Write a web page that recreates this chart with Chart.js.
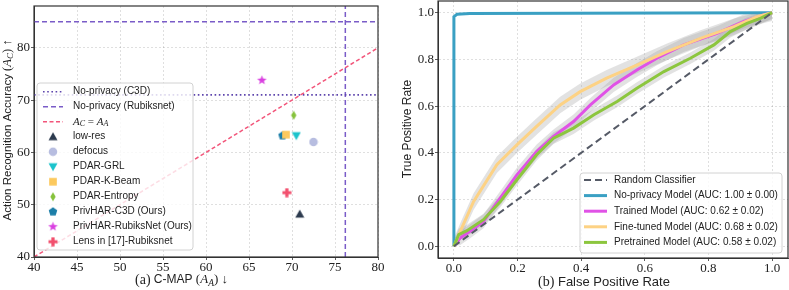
<!DOCTYPE html>
<html>
<head>
<meta charset="utf-8">
<script src="https://cdn.jsdelivr.net/npm/chart.js@4.4.0/dist/chart.umd.min.js"></script>
<style>
  body { margin: 0; background: #fff; }
  #izq { position: absolute; left: 0; top: 0; }
  #der { position: absolute; left: 395px; top: 0; }
</style>
</head>
<body>
<canvas id="izq" width="395" height="290"></canvas>
<canvas id="der" width="394" height="290"></canvas>
<script>
// ---- (a) privacidad vs precision ----
const metodos = ["low-res", "defocus", "PDAR-GRL", "PDAR-K-Beam", "PDAR-Entropy",
  "PrivHAR-C3D (Ours)", "PrivHAR-RubiksNet (Ours)", "Lens in [17]-Rubiksnet"];
const cmapMetodos = [70.9, 72.5, 70.5, 69.3, 70.2, 68.9, 66.5, 69.4];
const precisionMetodos = [48.2, 62.0, 63.2, 63.4, 67.1, 63.2, 73.8, 52.3];
const sinPrivacidadC3D = 71.0;          // precision (linea punteada)
const sinPrivacidadRubiksCmap = 76.2;   // linea vertical
const sinPrivacidadRubiksPrec = 85.0;   // linea horizontal
const extremosDiagonal = [40, 80];

// ---- (b) curvas ROC ----
const fprAleatorio = [0, 1];
const tprAleatorio = [0, 1];
const fprSinPrivacidad = [0, 0, 0.01, 0.05, 1];
const tprSinPrivacidad = [0, 0.983, 0.993, 0.997, 1];
const fprEntrenado = [0, 0.02, 0.051, 0.093, 0.146, 0.198, 0.26, 0.313, 0.376, 0.429, 0.502, 0.575, 0.638, 0.722, 0.827, 0.91, 0.974, 1];
const tprEntrenado = [0, 0.036, 0.064, 0.107, 0.207, 0.306, 0.406, 0.47, 0.534, 0.605, 0.691, 0.755, 0.805, 0.862, 0.912, 0.962, 0.99, 1];
const fprAjustado = [0, 0.02, 0.062, 0.135, 0.198, 0.26, 0.334, 0.397, 0.48, 0.575, 0.67, 0.775, 0.88, 0.953, 1];
const tprAjustado = [0, 0.064, 0.192, 0.349, 0.434, 0.513, 0.605, 0.662, 0.72, 0.776, 0.833, 0.89, 0.94, 0.983, 1];
const fprPreentrenado = [0, 0.015, 0.041, 0.093, 0.146, 0.198, 0.26, 0.313, 0.376, 0.44, 0.513, 0.575, 0.66, 0.743, 0.817, 0.869, 0.921, 0.963, 1];
const tprPreentrenado = [0, 0.05, 0.067, 0.114, 0.192, 0.285, 0.392, 0.463, 0.506, 0.563, 0.62, 0.677, 0.748, 0.805, 0.862, 0.919, 0.954, 0.976, 1];
const desviacionModelos = [0.03, 0.035, 0.025]; // entrenado, ajustado, preentrenado
const etiquetasROC = ["Random Classifier", "No-privacy Model (AUC: 1.00 \u00b1 0.00)",
  "Trained Model (AUC: 0.62 \u00b1 0.02)", "Fine-tuned Model (AUC: 0.68 \u00b1 0.02)",
  "Pretrained Model (AUC: 0.58 \u00b1 0.02)"];

// estilos
const SANS = '"Liberation Sans", Arial, sans-serif';
const SERIF = '"Liberation Serif", "DejaVu Serif", serif';
const formas = ["triangulo", "circulo", "trianguloAbajo", "cuadrado", "diamante", "pentagono", "estrella", "cruz"];
const coloresMetodos = ["#2c3a4e", "#b7bde0", "#1cc3cc", "#fcc95e", "#86c23c", "#1c7ea8", "#d93fe0", "#f2506e"];
const colorC3D = "#5e45ad";
const colorRubiks = "#7a5cc8";
const colorDiagonal = "#f2557a";
const colorAleatorio = "#555a66";
const colorSinPriv = "#3aa0c3";
const colorEntrenado = "#e052e6";
const colorAjustado = "#fdd284";
const colorPreentrenado = "#8cc63e";

Chart.defaults.animation = false;
Chart.defaults.color = "#222";

function crearMarcador(forma, color, t) {
  const c = document.createElement("canvas");
  c.width = t; c.height = t;
  const g = c.getContext("2d");
  g.fillStyle = color;
  const m = t / 2, r = t / 2 - 0.5;
  g.beginPath();
  switch (forma) {
    case "circulo": g.arc(m, m, r * 0.95, 0, 2 * Math.PI); break;
    case "triangulo":
      g.moveTo(m, m - r); g.lineTo(m + r, m + r * 0.8); g.lineTo(m - r, m + r * 0.8); break;
    case "trianguloAbajo":
      g.moveTo(m, m + r); g.lineTo(m + r, m - r * 0.8); g.lineTo(m - r, m - r * 0.8); break;
    case "cuadrado": g.rect(m - r * 0.85, m - r * 0.85, r * 1.7, r * 1.7); break;
    case "diamante":
      g.moveTo(m, m - r); g.lineTo(m + r * 0.6, m); g.lineTo(m, m + r); g.lineTo(m - r * 0.6, m); break;
    case "pentagono":
      for (let k = 0; k < 5; k++) {
        const a = -Math.PI / 2 + k * 2 * Math.PI / 5;
        g.lineTo(m + r * Math.cos(a), m + r * Math.sin(a));
      }
      break;
    case "estrella":
      for (let k = 0; k < 10; k++) {
        const a = -Math.PI / 2 + k * Math.PI / 5;
        const rr = k % 2 === 0 ? r : r * 0.42;
        g.lineTo(m + rr * Math.cos(a), m + rr * Math.sin(a));
      }
      break;
    case "cruz": {
      const w = r * 0.36;
      g.moveTo(m - w, m - r); g.lineTo(m + w, m - r); g.lineTo(m + w, m - w); g.lineTo(m + r, m - w);
      g.lineTo(m + r, m + w); g.lineTo(m + w, m + w); g.lineTo(m + w, m + r); g.lineTo(m - w, m + r);
      g.lineTo(m - w, m + w); g.lineTo(m - r, m + w); g.lineTo(m - r, m - w); g.lineTo(m - w, m - w);
      break;
    }
  }
  g.closePath();
  g.fill();
  return c;
}

const marcadores = formas.map((f, i) => crearMarcador(f, coloresMetodos[i], f === "estrella" ? 11 : 10));

// texto con partes de distinta fuente (para A_C, etc.)
function anchoPartes(ctx, partes) {
  let w = 0;
  partes.forEach((p) => { ctx.font = p.f; w += ctx.measureText(p.t).width; });
  return w;
}
function dibujarPartes(ctx, partes, x, y) {
  partes.forEach((p) => {
    ctx.font = p.f;
    ctx.fillText(p.t, x, y + (p.dy || 0));
    x += ctx.measureText(p.t).width;
  });
}

function dibujarLeyenda(ctx, caja, items, inicioY, paso, lineaX0, lineaX1, textoX) {
  ctx.save();
  ctx.beginPath();
  ctx.roundRect(caja.x, caja.y, caja.w, caja.h, 3);
  ctx.fillStyle = "rgba(255,255,255,0.8)";
  ctx.fill();
  ctx.strokeStyle = "#d2d2d2";
  ctx.lineWidth = 1;
  ctx.stroke();
  ctx.textBaseline = "middle";
  items.forEach((it, i) => {
    const y = inicioY + i * paso;
    if (it.marcador) {
      const mk = it.marcador;
      ctx.drawImage(mk, (lineaX0 + lineaX1) / 2 - mk.width / 2, y - mk.height / 2);
    } else {
      ctx.beginPath();
      ctx.setLineDash(it.dash || []);
      ctx.strokeStyle = it.color;
      ctx.lineWidth = it.ancho;
      ctx.moveTo(lineaX0, y);
      ctx.lineTo(lineaX1, y);
      ctx.stroke();
      ctx.setLineDash([]);
    }
    ctx.fillStyle = "#222";
    dibujarPartes(ctx, it.partes, textoX, y);
  });
  ctx.restore();
}

function marco(chart) {
  const { ctx, chartArea: a } = chart;
  ctx.save();
  ctx.strokeStyle = "#333";
  ctx.lineWidth = 1.2;
  ctx.strokeRect(a.left, a.top, a.right - a.left, a.bottom - a.top);
  ctx.restore();
}

function puntos(xs, ys) {
  return xs.map((x, i) => ({ x: x, y: ys[i] }));
}

function sinRelleno(s) {
  s.paddingLeft = 0; s.paddingRight = 0; s.paddingTop = 0; s.paddingBottom = 0;
}

function ejes(minX, maxX, pasoX, minY, maxY, pasoY, anchoY, altoX, formato) {
  const comun = {
    grid: { color: "rgba(0,0,0,0.16)", lineWidth: 0.8, tickColor: "#333", tickLength: 3 },
    border: { dash: [2, 2], color: "#333" },
  };
  return {
    x: {
      type: "linear", min: minX, max: maxX, ...comun,
      ticks: { stepSize: pasoX, includeBounds: false, maxRotation: 0, padding: 0, font: { family: SERIF, size: 13 }, callback: formato },
      afterFit: (s) => { s.height = altoX; sinRelleno(s); },
    },
    y: {
      type: "linear", min: minY, max: maxY, ...comun,
      ticks: { stepSize: pasoY, includeBounds: false, padding: 1, font: { family: SERIF, size: 13 }, callback: formato },
      afterFit: (s) => { s.width = anchoY; sinRelleno(s); },
    },
  };
}

// ---------- grafica (a) ----------
const datosIzq = [];
metodos.forEach((m, i) => {
  datosIzq.push({
    label: m,
    data: [{ x: cmapMetodos[i], y: precisionMetodos[i] }],
    pointStyle: marcadores[i],
    pointRadius: 5,
  });
});
datosIzq.push({
  label: "A_C = A_A",
  data: puntos(extremosDiagonal, extremosDiagonal),
  showLine: true, borderColor: colorDiagonal, borderWidth: 1.5, borderDash: [4, 2.5], pointRadius: 0,
});
datosIzq.push({
  label: "No-privacy (C3D)",
  data: puntos(extremosDiagonal, [sinPrivacidadC3D, sinPrivacidadC3D]),
  showLine: true, borderColor: colorC3D, borderWidth: 1.6, borderDash: [1.6, 2.6], pointRadius: 0,
});
datosIzq.push({
  label: "No-privacy (Rubiksnet)",
  data: puntos(extremosDiagonal, [sinPrivacidadRubiksPrec, sinPrivacidadRubiksPrec]),
  showLine: true, borderColor: colorRubiks, borderWidth: 1.5, borderDash: [5, 3], pointRadius: 0,
});
datosIzq.push({
  label: "No-privacy (Rubiksnet) v",
  data: puntos([sinPrivacidadRubiksCmap, sinPrivacidadRubiksCmap], [40, 88]),
  showLine: true, borderColor: colorRubiks, borderWidth: 1.5, borderDash: [5, 3], pointRadius: 0,
});

const leyendaIzq = [
  { color: colorC3D, ancho: 1.6, dash: [1.6, 2.6], partes: [{ t: "No-privacy (C3D)", f: "10px " + SANS }] },
  { color: colorRubiks, ancho: 1.5, dash: [5, 3], partes: [{ t: "No-privacy (Rubiksnet)", f: "10px " + SANS }] },
  { color: colorDiagonal, ancho: 1.5, dash: [4, 2.5], partes: [
    { t: "A", f: "italic 11px " + SERIF }, { t: "C", f: "italic 8px " + SERIF, dy: 2 },
    { t: " = ", f: "11px " + SERIF },
    { t: "A", f: "italic 11px " + SERIF }, { t: "A", f: "italic 8px " + SERIF, dy: 2 }] },
].concat(metodos.map((m, i) => ({ marcador: marcadores[i], partes: [{ t: m, f: "10px " + SANS }] })));

new Chart(document.getElementById("izq"), {
  type: "scatter",
  data: { datasets: datosIzq },
  options: {
    responsive: false,
    devicePixelRatio: 1,
    layout: { padding: { left: 0, right: 17, top: 1, bottom: 0 } },
    plugins: { legend: { display: false }, tooltip: { enabled: false } },
    scales: ejes(40, 80, 5, 40, 88, 10, 34, 33, (v) => v),
  },
  plugins: [{
    id: "extrasIzq",
    afterDraw(chart) {
      const ctx = chart.ctx;
      marco(chart);
      dibujarLeyenda(ctx, { x: 37, y: 83, w: 156, h: 167 }, leyendaIzq, 91.7, 15, 43, 63, 73);
      ctx.save();
      ctx.fillStyle = "#222";
      ctx.textBaseline = "middle";
      // titulo eje x
      dibujarPartes(ctx, [
        { t: "(a)", f: "14px " + SERIF }, { t: " C-MAP ", f: "12px " + SANS },
        { t: "(", f: "13px " + SERIF }, { t: "A", f: "italic 13px " + SERIF },
        { t: "A", f: "italic 9.5px " + SERIF, dy: 3 }, { t: ") \u2193", f: "13px " + SERIF },
      ], 135, 280);
      // titulo eje y
      const partesY = [
        { t: "Action Recognition Accuracy ", f: "11.5px " + SANS },
        { t: "(", f: "12.5px " + SERIF }, { t: "A", f: "italic 12.5px " + SERIF },
        { t: "C", f: "italic 9px " + SERIF, dy: 3 }, { t: ") \u2191", f: "12.5px " + SERIF },
      ];
      const w = anchoPartes(ctx, partesY);
      ctx.translate(8, 130);
      ctx.rotate(-Math.PI / 2);
      dibujarPartes(ctx, partesY, -w / 2, 0);
      ctx.restore();
    },
  }],
});

// ---------- grafica (b) ----------
function banda(xs, ys, d) {
  return {
    alta: xs.map((x, i) => ({ x: x, y: Math.min(1, ys[i] + d) })),
    baja: xs.map((x, i) => ({ x: x, y: Math.max(0, ys[i] - d) })),
  };
}
const bEntrenado = banda(fprEntrenado, tprEntrenado, desviacionModelos[0]);
const bAjustado = banda(fprAjustado, tprAjustado, desviacionModelos[1]);
const bPreentrenado = banda(fprPreentrenado, tprPreentrenado, desviacionModelos[2]);

function linea(label, data, color, ancho, dash) {
  return { label: label, data: data, showLine: true, borderColor: color, borderWidth: ancho,
    borderDash: dash || [], pointRadius: 0, tension: 0, fill: false };
}

const datosDer = [
  linea(etiquetasROC[0], puntos(fprAleatorio, tprAleatorio), colorAleatorio, 2, [7, 4]),
  linea(etiquetasROC[4], puntos(fprPreentrenado, tprPreentrenado), colorPreentrenado, 3),
  linea(etiquetasROC[3], puntos(fprAjustado, tprAjustado), colorAjustado, 3),
  linea(etiquetasROC[2], puntos(fprEntrenado, tprEntrenado), colorEntrenado, 3),
  linea(etiquetasROC[1], puntos(fprSinPrivacidad, tprSinPrivacidad), colorSinPriv, 3),
];
[bEntrenado, bAjustado, bPreentrenado].forEach((b) => {
  const idx = datosDer.length;
  datosDer.push({ label: "banda", data: b.alta, showLine: true, borderWidth: 0, pointRadius: 0,
    borderColor: "rgba(0,0,0,0)", backgroundColor: "rgba(160,160,160,0.3)", fill: idx + 1 });
  datosDer.push({ label: "banda", data: b.baja, showLine: true, borderWidth: 0, pointRadius: 0,
    borderColor: "rgba(0,0,0,0)", fill: false });
});

const leyendaDer = [
  { color: colorAleatorio, ancho: 2, dash: [7, 4], partes: [{ t: etiquetasROC[0], f: "10px " + SANS }] },
  { color: colorSinPriv, ancho: 3, partes: [{ t: etiquetasROC[1], f: "10px " + SANS }] },
  { color: colorEntrenado, ancho: 3, partes: [{ t: etiquetasROC[2], f: "10px " + SANS }] },
  { color: colorAjustado, ancho: 3, partes: [{ t: etiquetasROC[3], f: "10px " + SANS }] },
  { color: colorPreentrenado, ancho: 3, partes: [{ t: etiquetasROC[4], f: "10px " + SANS }] },
];

new Chart(document.getElementById("der"), {
  type: "scatter",
  data: { datasets: datosDer },
  options: {
    responsive: false,
    devicePixelRatio: 1,
    layout: { padding: { left: 0, right: 1, top: 1, bottom: 0 } },
    plugins: { legend: { display: false }, tooltip: { enabled: false } },
    scales: ejes(-0.05, 1.05, 0.2, -0.05, 1.05, 0.2, 43, 32, (v) => v.toFixed(1)),
  },
  plugins: [{
    id: "extrasDer",
    afterDraw(chart) {
      const ctx = chart.ctx;
      marco(chart);
      dibujarLeyenda(ctx, { x: 185, y: 173, w: 202, h: 80 }, leyendaDer, 180, 15.6, 189, 212, 219);
      ctx.save();
      ctx.fillStyle = "#222";
      ctx.textBaseline = "middle";
      dibujarPartes(ctx, [
        { t: "(b)", f: "14px " + SERIF }, { t: " False Positive Rate", f: "13px " + SANS },
      ], 143, 282);
      ctx.font = "12px " + SANS;
      ctx.textAlign = "center";
      ctx.translate(13, 129);
      ctx.rotate(-Math.PI / 2);
      ctx.fillText("True Positive Rate", 0, 0);
      ctx.restore();
    },
  }],
});
</script>
</body>
</html>
